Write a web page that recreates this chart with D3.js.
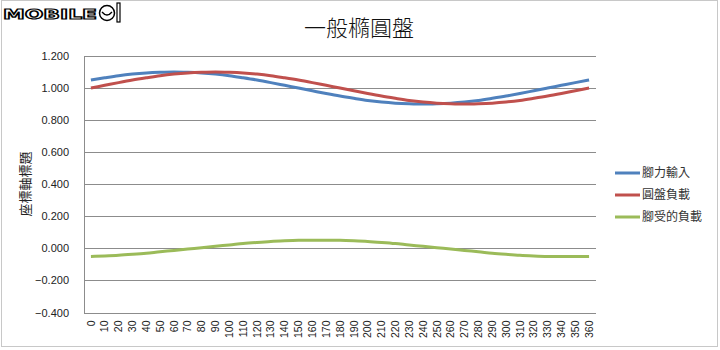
<!DOCTYPE html>
<html><head><meta charset="utf-8">
<script src="https://cdn.jsdelivr.net/npm/d3@7"></script>
<style>html,body{margin:0;padding:0;background:#fff;}svg{display:block;}</style>
</head><body>
<svg id="c" width="720" height="350"></svg>
<script>
const categories = [0,10,20,30,40,50,60,70,80,90,100,110,120,130,140,150,160,170,180,190,200,210,220,230,240,250,260,270,280,290,300,310,320,330,340,350,360];
const footInput = [1.050,1.064,1.077,1.087,1.094,1.098,1.100,1.098,1.094,1.087,1.077,1.064,1.050,1.034,1.017,1.000,0.983,0.966,0.950,0.936,0.923,0.913,0.906,0.902,0.900,0.902,0.906,0.913,0.923,0.936,0.950,0.966,0.983,1.000,1.017,1.034,1.050];
const diskLoad = [1.000,1.017,1.034,1.050,1.064,1.077,1.087,1.094,1.098,1.100,1.098,1.094,1.087,1.077,1.064,1.050,1.034,1.017,1.000,0.983,0.966,0.950,0.936,0.923,0.913,0.906,0.902,0.900,0.902,0.906,0.913,0.923,0.936,0.950,0.966,0.983,1.000];
const footLoad = [-0.050,-0.047,-0.043,-0.037,-0.030,-0.021,-0.013,-0.004,0.004,0.013,0.021,0.030,0.037,0.043,0.047,0.050,0.051,0.051,0.050,0.047,0.043,0.037,0.030,0.021,0.013,0.004,-0.004,-0.013,-0.021,-0.030,-0.037,-0.043,-0.047,-0.050,-0.051,-0.051,-0.050];
const seriesNames = ["腳力輸入","圓盤負載","腳受的負載"];
const seriesColors = ["#4F81BD","#C0504D","#9BBB59"];
const yTicks = [-0.4,-0.2,0,0.2,0.4,0.6,0.8,1.0,1.2];
const title = "一般橢圓盤";
const yTitle = "座標軸標題";

const svg = d3.select("#c");
const cjk = "'Noto Sans CJK TC','Noto Sans CJK SC',sans-serif";

// outer frame
svg.append("rect").attr("x",1.5).attr("y",0.5).attr("width",716).attr("height",346)
  .attr("fill","#fff").attr("stroke","#c8c8c8").attr("stroke-width",1);

const L=84, R=596, T=56, B=312.5;
const x = d3.scaleBand().domain(categories).range([L,R]);
const y = d3.scaleLinear().domain([-0.4,1.2]).range([B,T]);

// gridlines
svg.append("g").selectAll("line").data(yTicks).join("line")
  .attr("x1",L).attr("x2",R)
  .attr("y1",d=>Math.round(y(d))+0.5).attr("y2",d=>Math.round(y(d))+0.5)
  .attr("stroke","#8c8c8c").attr("stroke-width",1);
// y axis line
svg.append("line").attr("x1",L+0.5).attr("x2",L+0.5).attr("y1",T).attr("y2",B+0.5)
  .attr("stroke","#8c8c8c");

// y axis labels
const yAxis = d3.axisLeft(y).tickValues(yTicks).tickFormat(d3.format(".3f")).tickSize(0).tickPadding(15);
const gy = svg.append("g").attr("transform",`translate(${L},0)`).call(yAxis);
gy.select(".domain").remove();
gy.selectAll("text").attr("font-family","'Liberation Sans',Arial,sans-serif").attr("font-size",11).attr("fill","#222");

// x axis labels
const xAxis = d3.axisBottom(x).tickSize(0).tickPadding(0);
const gx = svg.append("g").attr("transform",`translate(0,${B})`).call(xAxis);
gx.select(".domain").remove();
gx.selectAll("text").attr("font-family","'Liberation Sans',Arial,sans-serif").attr("font-size",10.5).attr("fill","#222")
  .attr("text-anchor","end").attr("dy","0.35em").attr("dx",0)
  .attr("transform","translate(0,8) rotate(-90)").attr("y",0).attr("x",0);

// lines
const data = [footInput, diskLoad, footLoad];
const line = d3.line().x((d,i)=>x(categories[i])+x.bandwidth()/2).y(d=>y(d)).curve(d3.curveMonotoneX);
svg.append("g").selectAll("path").data(data).join("path")
  .attr("d",line).attr("fill","none")
  .attr("stroke",(d,i)=>seriesColors[i]).attr("stroke-width",3).attr("stroke-linejoin","round");

// title
svg.append("text").attr("x",359).attr("y",36).attr("text-anchor","middle")
  .attr("font-family",cjk).attr("font-size",22).attr("font-weight",300).attr("fill","#111").text(title);

// y title
svg.append("text").attr("transform","translate(30,184) rotate(-90)").attr("text-anchor","middle")
  .attr("font-family",cjk).attr("font-size",13).attr("fill","#222").text(yTitle);

// legend
const lg = svg.append("g").selectAll("g").data(seriesNames).join("g")
  .attr("transform",(d,i)=>`translate(615,${[173,195,217][i]})`);
lg.append("line").attr("x1",0).attr("x2",25).attr("y1",0).attr("y2",0)
  .attr("stroke",(d,i)=>seriesColors[i]).attr("stroke-width",3);
lg.append("text").attr("x",27).attr("y",0).attr("dy","0.36em")
  .attr("font-family",cjk).attr("font-size",12).attr("fill","#333").text(d=>d);

// watermark logo
const logo = svg.append("g");
logo.append("text").attr("x",3).attr("y",19).attr("textLength",94).attr("lengthAdjust","spacingAndGlyphs")
  .attr("font-family","'DejaVu Sans',sans-serif").attr("font-weight","bold").attr("font-size",14)
  .attr("fill","#fff").attr("stroke","#000").attr("stroke-width",1.2).text("MOBILE");
logo.append("circle").attr("cx",107).attr("cy",13).attr("r",7.5).attr("fill","#fff").attr("stroke","#000").attr("stroke-width",1.5);
logo.append("path").attr("d","M102,12 Q107,18 112,12").attr("fill","none").attr("stroke","#000").attr("stroke-width",1.3);
logo.append("rect").attr("x",117).attr("y",3).attr("width",3).attr("height",19).attr("fill","#fff").attr("stroke","#000").attr("stroke-width",1.2);
</script>
</body></html>
